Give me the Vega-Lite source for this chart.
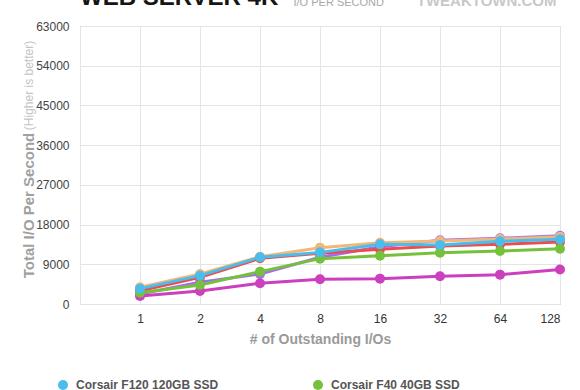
{
  "$schema": "https://vega.github.io/schema/vega-lite/v6.json",
  "width": 480,
  "height": 278,
  "autosize": {"type": "none"},
  "padding": {"left": 80, "top": 26, "right": 20, "bottom": 86},
  "background": "white",
  "title": {"text": "WEB SERVER 4K", "anchor": "start", "frame": "group", "font": "Liberation Sans", "fontSize": 24, "fontWeight": "bold", "color": "#151515", "baseline": "alphabetic", "offset": 0, "dy": 36},
  "config": {
    "font": "Liberation Sans",
    "view": {"stroke": "#bbbbbb"},
    "legend": {"symbolType": "circle"}
  },
  "data": {"values": [
    {"ssd": "Intel X25-M G2 160GB SSD", "qd": 1, "iops": 2270},
    {"ssd": "Intel X25-M G2 160GB SSD", "qd": 2, "iops": 4910},
    {"ssd": "Intel X25-M G2 160GB SSD", "qd": 4, "iops": 6800},
    {"ssd": "Intel X25-M G2 160GB SSD", "qd": 8, "iops": 10580},
    {"ssd": "Intel X25-M G2 160GB SSD", "qd": 16, "iops": 12990},
    {"ssd": "Intel X25-M G2 160GB SSD", "qd": 32, "iops": 14450},
    {"ssd": "Intel X25-M G2 160GB SSD", "qd": 64, "iops": 14900},
    {"ssd": "Intel X25-M G2 160GB SSD", "qd": 128, "iops": 15450},
    {"ssd": "OCZ Vertex 2 120GB SSD", "qd": 1, "iops": 3780},
    {"ssd": "OCZ Vertex 2 120GB SSD", "qd": 2, "iops": 6800},
    {"ssd": "OCZ Vertex 2 120GB SSD", "qd": 4, "iops": 10720},
    {"ssd": "OCZ Vertex 2 120GB SSD", "qd": 8, "iops": 12770},
    {"ssd": "OCZ Vertex 2 120GB SSD", "qd": 16, "iops": 13900},
    {"ssd": "OCZ Vertex 2 120GB SSD", "qd": 32, "iops": 14270},
    {"ssd": "OCZ Vertex 2 120GB SSD", "qd": 64, "iops": 14730},
    {"ssd": "OCZ Vertex 2 120GB SSD", "qd": 128, "iops": 15260},
    {"ssd": "Crucial RealSSD C300 128GB SSD", "qd": 1, "iops": 3020},
    {"ssd": "Crucial RealSSD C300 128GB SSD", "qd": 2, "iops": 6040},
    {"ssd": "Crucial RealSSD C300 128GB SSD", "qd": 4, "iops": 10350},
    {"ssd": "Crucial RealSSD C300 128GB SSD", "qd": 8, "iops": 11480},
    {"ssd": "Crucial RealSSD C300 128GB SSD", "qd": 16, "iops": 12390},
    {"ssd": "Crucial RealSSD C300 128GB SSD", "qd": 32, "iops": 13140},
    {"ssd": "Crucial RealSSD C300 128GB SSD", "qd": 64, "iops": 13520},
    {"ssd": "Crucial RealSSD C300 128GB SSD", "qd": 128, "iops": 14050},
    {"ssd": "Kingston SSDNow V+ 128GB SSD", "qd": 1, "iops": 1800},
    {"ssd": "Kingston SSDNow V+ 128GB SSD", "qd": 2, "iops": 2950},
    {"ssd": "Kingston SSDNow V+ 128GB SSD", "qd": 4, "iops": 4700},
    {"ssd": "Kingston SSDNow V+ 128GB SSD", "qd": 8, "iops": 5600},
    {"ssd": "Kingston SSDNow V+ 128GB SSD", "qd": 16, "iops": 5750},
    {"ssd": "Kingston SSDNow V+ 128GB SSD", "qd": 32, "iops": 6270},
    {"ssd": "Kingston SSDNow V+ 128GB SSD", "qd": 64, "iops": 6650},
    {"ssd": "Kingston SSDNow V+ 128GB SSD", "qd": 128, "iops": 7800},
    {"ssd": "Corsair F40 40GB SSD", "qd": 1, "iops": 2570},
    {"ssd": "Corsair F40 40GB SSD", "qd": 2, "iops": 4300},
    {"ssd": "Corsair F40 40GB SSD", "qd": 4, "iops": 7330},
    {"ssd": "Corsair F40 40GB SSD", "qd": 8, "iops": 10280},
    {"ssd": "Corsair F40 40GB SSD", "qd": 16, "iops": 10950},
    {"ssd": "Corsair F40 40GB SSD", "qd": 32, "iops": 11640},
    {"ssd": "Corsair F40 40GB SSD", "qd": 64, "iops": 12000},
    {"ssd": "Corsair F40 40GB SSD", "qd": 128, "iops": 12540},
    {"ssd": "Corsair F120 120GB SSD", "qd": 1, "iops": 3480},
    {"ssd": "Corsair F120 120GB SSD", "qd": 2, "iops": 6420},
    {"ssd": "Corsair F120 120GB SSD", "qd": 4, "iops": 10580},
    {"ssd": "Corsair F120 120GB SSD", "qd": 8, "iops": 11700},
    {"ssd": "Corsair F120 120GB SSD", "qd": 16, "iops": 13520},
    {"ssd": "Corsair F120 120GB SSD", "qd": 32, "iops": 13370},
    {"ssd": "Corsair F120 120GB SSD", "qd": 64, "iops": 14200},
    {"ssd": "Corsair F120 120GB SSD", "qd": 128, "iops": 14650}
  ]},
  "layer": [
    {
      "mark": {"type": "line", "strokeWidth": 3},
      "encoding": {
        "x": {"field": "qd", "type": "quantitative",
          "scale": {"type": "log", "base": 2, "domain": [0.5, 128], "nice": false},
          "axis": {"values": [0.5, 1, 2, 4, 8, 16, 32, 64, 128], "labelExpr": "datum.value < 1 ? '' : format(datum.value, 'd')",
            "domain": false, "ticks": false, "labelPadding": 9, "labelFontSize": 12, "labelColor": "#333333",
            "gridColor": "#e4e4e4", "title": "# of Outstanding I/Os", "titleFontSize": 14, "titleFontWeight": "bold", "titleColor": "#9a9a9a", "titlePadding": 8}},
        "y": {"field": "iops", "type": "quantitative",
          "scale": {"domain": [0, 63000], "nice": false},
          "axis": {"values": [0, 9000, 18000, 27000, 36000, 45000, 54000, 63000], "format": "d",
            "domain": false, "ticks": false, "labelPadding": 11, "labelFontSize": 12, "labelColor": "#444444",
            "gridColor": "#e4e4e4", "title": "Total I/O Per Second", "titleFontSize": 15, "titleFontWeight": "bold", "titleColor": "#a0a0a0",
            "titleAngle": -90, "titleX": -47, "titleY": 179, "titleAlign": "center", "titleBaseline": "alphabetic", "titleLimit": 300}},
        "color": {"field": "ssd", "type": "nominal",
          "scale": {"domain": ["Corsair F120 120GB SSD", "Corsair F40 40GB SSD", "OCZ Vertex 2 120GB SSD", "Intel X25-M G2 160GB SSD", "Crucial RealSSD C300 128GB SSD", "Kingston SSDNow V+ 128GB SSD"],
            "range": ["#4cbcec", "#76c13b", "#efb878", "#a56cf2", "#ea4d4d", "#cc3fbd"]}}
      }
    },
    {
      "mark": {"type": "point", "filled": true, "size": 100, "opacity": 1},
      "encoding": {
        "x": {"field": "qd", "type": "quantitative",
          "axis": {"orient": "top", "labels": false, "ticks": false, "domain": false, "grid": false,
            "title": "I/O PER SECOND", "titleFontSize": 11, "titleFontWeight": "normal", "titleColor": "#a8a8a8",
            "titleX": 213, "titleY": -21, "titleAlign": "left", "titleBaseline": "alphabetic", "titleAngle": 0}},
        "y": {"field": "iops", "type": "quantitative",
          "axis": {"orient": "right", "labels": false, "ticks": false, "domain": false, "grid": false,
            "title": "(Higher is better)", "titleFontSize": 12, "titleFontWeight": "normal", "titleColor": "#c4c4c4",
            "titleAngle": -90, "titleX": -528, "titleY": 59, "titleAlign": "center", "titleBaseline": "alphabetic", "titleLimit": 300}},
        "color": {"field": "ssd", "type": "nominal",
          "legend": {"orient": "none", "legendX": -23, "legendY": 353, "columns": 2, "direction": "horizontal",
            "values": ["Corsair F120 120GB SSD", "Corsair F40 40GB SSD"], "title": null, "symbolType": "circle",
            "symbolSize": 100, "symbolStrokeWidth": 0, "labelFontSize": 12, "labelFontWeight": "bold", "labelColor": "#555555",
            "labelOffset": 7, "columnPadding": 93, "labelLimit": 300}}
      }
    },
    {
      "mark": {"type": "point", "opacity": 0},
      "encoding": {
        "x": {"field": "qd", "type": "quantitative", "axis": null},
        "y": {"field": "iops", "type": "quantitative",
          "axis": {"orient": "right", "labels": false, "ticks": false, "domain": false, "grid": false,
            "title": "TWEAKTOWN.COM", "titleFontSize": 15, "titleFontWeight": "bold", "titleColor": "#c8c8c8",
            "titleAngle": 0, "titleX": -4, "titleY": -21, "titleAlign": "right", "titleBaseline": "alphabetic"}}
      }
    }
  ],
  "resolve": {"axis": {"x": "independent", "y": "independent"}}
}
